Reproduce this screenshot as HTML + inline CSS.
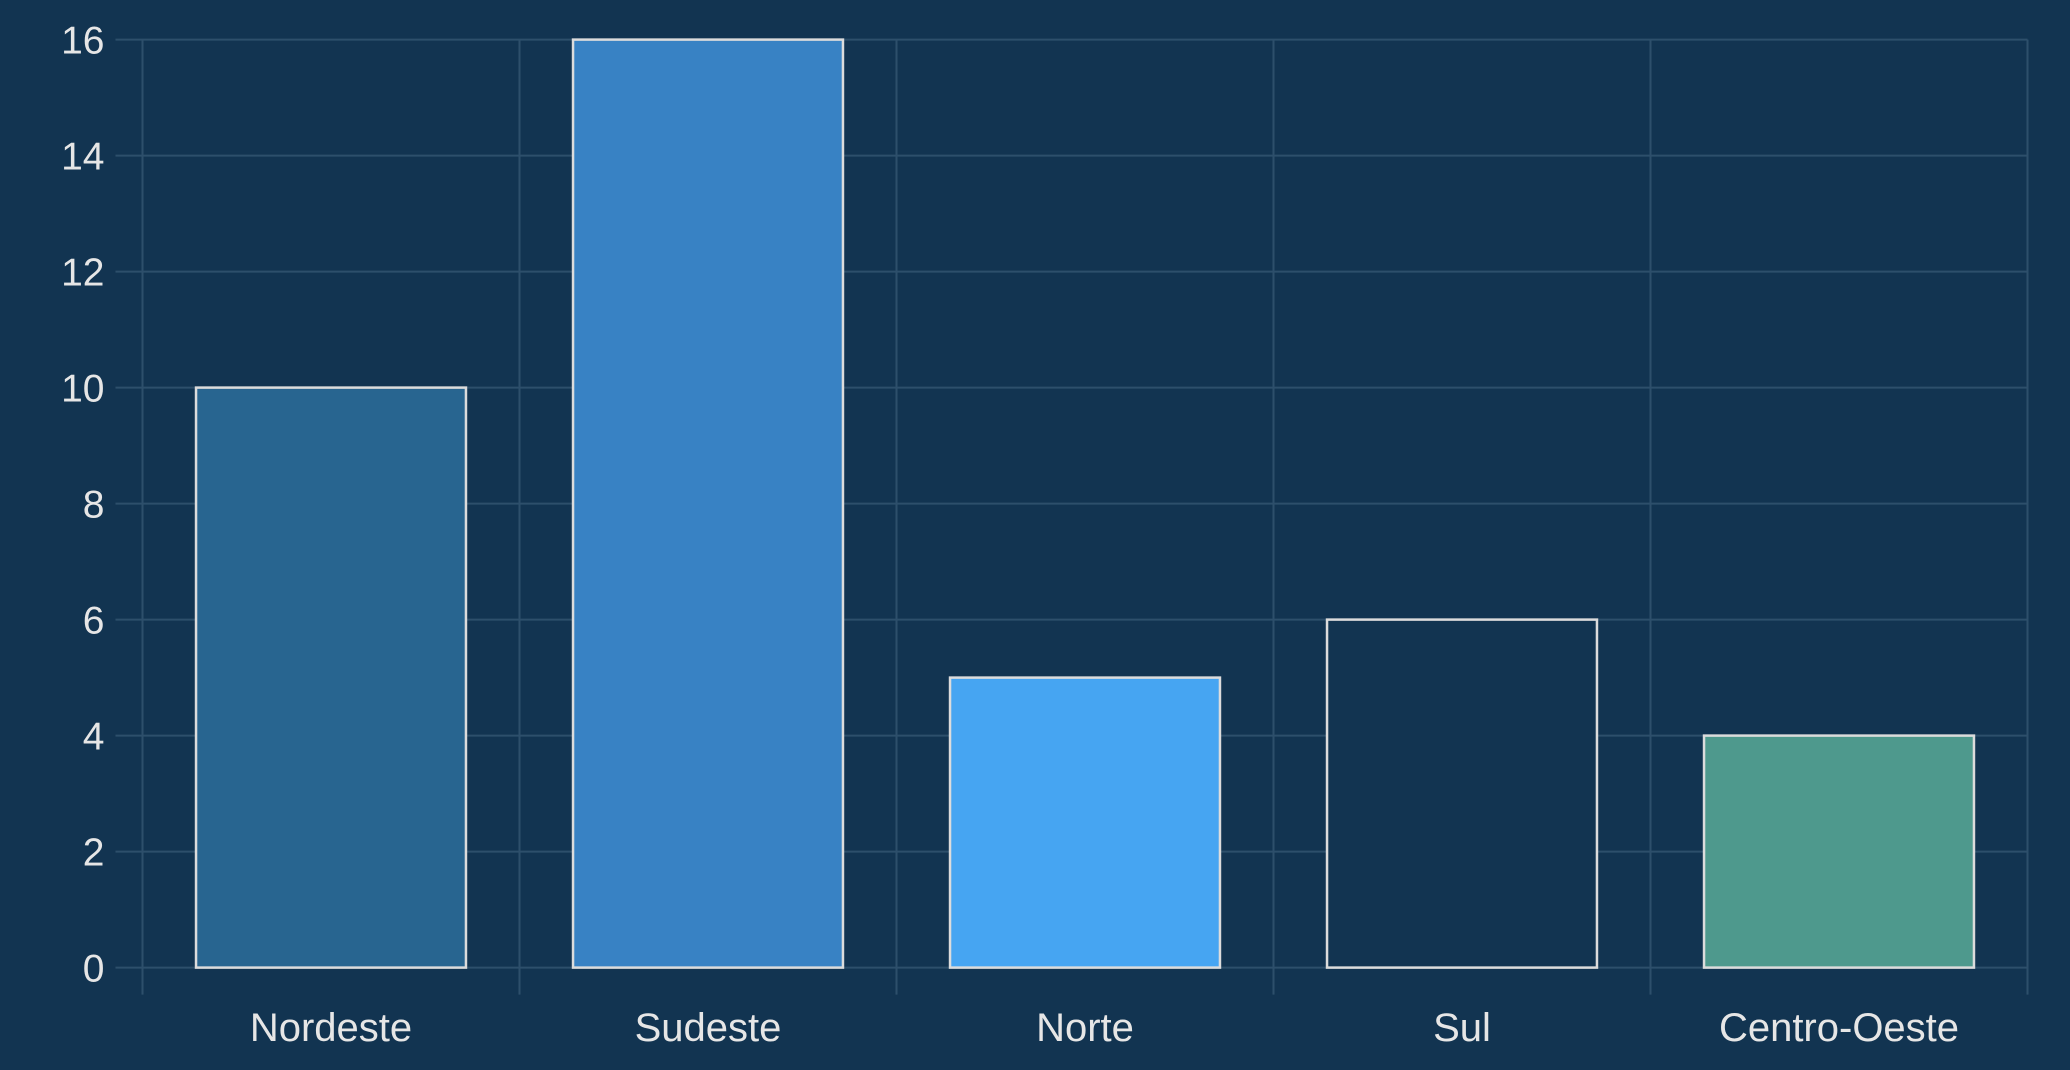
<!DOCTYPE html>
<html><head><meta charset="utf-8"><style>
html,body{margin:0;padding:0;background:#123451;}
svg{display:block;font-family:"Liberation Sans",sans-serif;}
</style></head><body>
<svg id="chart" width="2070" height="1070" viewBox="0 0 2070 1070">
<rect width="2070" height="1070" fill="#123451"/>
<g id="grid"></g><g id="bars"></g><g id="axes"></g>
</svg>
<script>
const categories = ["Nordeste","Sudeste","Norte","Sul","Centro-Oeste"];
const values = [10,16,5,6,4];
const colors = ["#286590","#3882c4","#46a5f2","#123451","#4e998d"];
const yTicks = [0,2,4,6,8,10,12,14,16];
const L=142.5,R=2027.5,T=39.6,B=967.6,yMax=16;
const ns="http://www.w3.org/2000/svg";
const bw=(R-L)/categories.length;
function x(i){return L+i*bw;}
function y(v){return B-(v/yMax)*(B-T);}
function mk(tag,attrs,parent){const e=document.createElementNS(ns,tag);for(const k in attrs)e.setAttribute(k,attrs[k]);parent.appendChild(e);return e;}
const grid=document.getElementById('grid'),bars=document.getElementById('bars'),axes=document.getElementById('axes');
yTicks.forEach(t=>{
  const g=mk('line',{x1:L,x2:R,y1:y(t),y2:y(t),stroke:'#2d4f6b','stroke-width':2},grid);
  
  
  const tk=mk('line',{x1:L-27,x2:L,y1:y(t),y2:y(t),stroke:'#2d4f6b','stroke-width':2},axes);
  
  
  const tx=mk('text',{x:L-38,y:y(t)+14,'text-anchor':'end','font-size':39,fill:'#e6e6e6'},axes);
  tx.textContent=t;
  
  
});
for(let i=0;i<=categories.length;i++){
  const g=mk('line',{x1:x(i),x2:x(i),y1:T,y2:B+27,stroke:'#2d4f6b','stroke-width':2},grid);
  
  
}
categories.forEach((c,i)=>{
  const w=bw*0.716,x0=x(i)+(bw-w)/2;
  const r=mk('rect',{x:x0,y:y(values[i]),width:w,height:B-y(values[i]),fill:colors[i],stroke:'#dcdcdc','stroke-width':2.5},bars);
  
  
  const tx=mk('text',{x:x(i)+bw/2,y:1041,'text-anchor':'middle','font-size':40,fill:'#e6e6e6'},axes);
  tx.textContent=c;
  
  
});
</script>
</body></html>
